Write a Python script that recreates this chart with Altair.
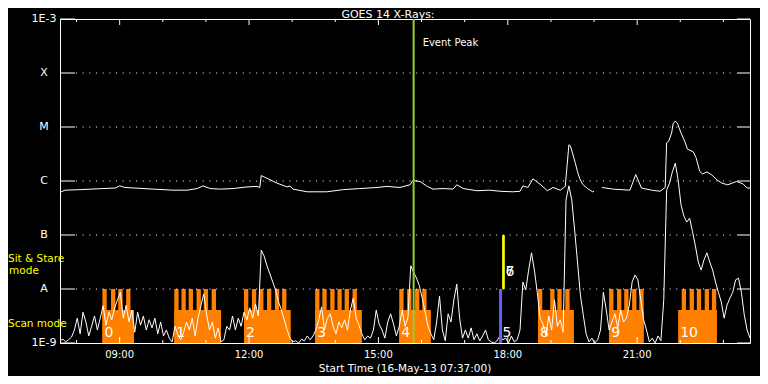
import altair as alt
import numpy as np
import pandas as pd

# ---------------- data ----------------
START = "07:37"
END = "23:37"
TITLE = "GOES 14 X-Rays:"
XTITLE = "Start Time (16-May-13 07:37:00)"

DECADES = [1e-9, 1e-8, 1e-7, 1e-6, 1e-5, 1e-4, 1e-3]
DECADE_LABELS = ["1E-9", "A", "B", "C", "M", "X", "1E-3"]
GRID_DECADES = [1e-8, 1e-7, 1e-6, 1e-5, 1e-4]

TICK_HOURS = [8, 9, 10, 11, 12, 13, 14, 15, 16, 17, 18, 19, 20, 21, 22, 23]
MAJOR_HOURS = [9, 12, 15, 18, 21]
MAJOR_LABELS = ["09:00", "12:00", "15:00", "18:00", "21:00"]

# long channel (1-8 A), minutes after start / log10 flux, two segments (data gap)
UP1_MIN = [0, 7, 28, 60, 77, 83, 90, 129, 157, 177, 191, 199, 209, 223, 241, 260, 274, 278,
           280, 288, 302, 316, 320, 324, 344, 371, 394, 417, 441, 455, 473, 487, 491, 501,
           511, 519, 533, 547, 552, 561, 580, 598, 612, 630, 640, 644, 651, 658, 668, 678,
           686, 696, 703, 708, 710, 713, 717, 720, 723, 727, 734, 741, 743]
UP1_LOG = [-6.21, -6.17, -6.16, -6.14, -6.13, -6.09, -6.12, -6.15, -6.17, -6.17, -6.14, -6.09,
           -6.14, -6.15, -6.14, -6.11, -6.10, -6.12, -5.90, -5.95, -6.04, -6.11, -6.09, -6.15,
           -6.20, -6.20, -6.16, -6.14, -6.12, -6.10, -6.12, -6.07, -5.99, -6.01, -6.10, -6.15,
           -6.14, -6.15, -6.07, -6.14, -6.18, -6.17, -6.19, -6.20, -6.19, -6.09, -6.12, -5.96,
           -6.06, -6.18, -6.12, -6.17, -6.10, -5.33, -5.35, -5.48, -5.67, -5.83, -5.95, -6.06,
           -6.14, -6.20, -6.19]
UP2_MIN = [754, 769, 793, 801, 809, 823, 835, 842, 844, 847, 851, 853, 856, 859, 864, 869, 873,
           881, 885, 890, 894, 900, 907, 914, 921, 929, 941, 950, 956, 960]
UP2_LOG = [-6.12, -6.15, -6.17, -5.88, -6.13, -6.17, -6.19, -6.12, -5.29, -5.26, -5.11, -4.94,
           -4.89, -4.93, -5.11, -5.26, -5.41, -5.46, -5.57, -5.82, -5.87, -5.83, -5.89, -5.98,
           -6.04, -6.07, -6.01, -6.05, -6.13, -6.13]

# short channel (0.5-4 A), one value every 4 minutes from the start, log10 flux
LOW_STEP_MIN = 4
LOW_LOG = [
    -8.96, -8.93, -8.98, -8.94, -8.89, -8.76, -8.54, -8.83, -8.43, -8.61,
    -8.87, -8.69, -8.50, -8.76, -8.54, -8.31, -8.67, -8.43, -8.57, -8.35,
    -8.20, -8.06, -8.54, -8.30, -8.61, -8.39, -8.80, -8.43, -8.67, -8.50,
    -8.76, -8.57, -8.72, -8.54, -8.83, -8.61, -8.87, -8.76, -8.91, -8.98,
    -8.69, -8.85, -8.94, -8.80, -8.61, -8.76, -8.54, -8.87, -8.54, -8.31,
    -8.09, -8.48, -8.76, -8.61, -8.91, -8.72, -8.98, -8.94, -8.69, -8.76,
    -8.50, -8.76, -8.54, -8.69, -8.43, -8.57, -8.35, -8.54, -8.28, -8.50,
    -7.28, -7.39, -7.57, -7.72, -7.87, -8.02, -8.24, -8.39, -8.57, -8.76,
    -8.91, -8.98, -8.96, -9.00, -8.93, -8.96, -8.87, -8.94, -8.87, -8.76,
    -8.57, -8.33, -8.76, -8.54, -8.46, -8.69, -8.83, -8.61, -8.72, -8.57,
    -8.76, -8.39, -8.17, -8.54, -8.67, -8.83, -8.94, -8.87, -8.91, -8.76,
    -8.39, -8.65, -8.76, -8.91, -8.61, -8.46, -8.65, -8.87, -8.69, -8.39,
    -8.69, -8.54, -7.57, -7.69, -7.80, -7.94, -8.17, -8.43, -8.69, -8.83,
    -8.94, -8.61, -8.13, -8.76, -8.96, -8.46, -8.61, -8.20, -7.91, -8.54,
    -8.91, -8.76, -8.91, -8.72, -8.94, -8.83, -8.96, -8.87, -8.76, -8.94,
    -8.98, -9.00, -8.96, -8.87, -8.94, -8.91, -9.00, -8.87, -8.98, -8.94,
    -8.76, -7.87, -8.02, -7.65, -7.33, -7.65, -8.06, -8.54, -8.65, -8.87,
    -8.50, -8.76, -8.20, -8.69, -8.57, -8.80, -6.35, -6.09, -6.35, -6.91,
    -7.50, -8.11, -8.48, -8.83, -8.98, -8.91, -9.00, -8.94, -8.76, -8.06,
    -8.39, -8.76, -8.61, -8.46, -8.72, -8.39, -8.61, -8.54, -8.31, -7.87,
    -7.74, -7.83, -8.20, -8.57, -8.76, -8.98, -8.91, -9.00, -8.87, -8.96,
    -8.20, -6.17, -6.04, -5.83, -5.67, -5.98, -6.44, -6.65, -6.76, -6.69,
    -6.94, -7.20, -7.50, -7.65, -7.46, -7.33, -7.50, -7.65, -7.87, -8.06,
    -8.24, -8.54, -8.30, -8.17, -8.06, -7.83, -7.80, -8.06, -8.48, -8.76,
    -8.91,
]

# observation blocks (scan mode)
BLOCK_START = ["08:36", "10:16", "11:53", "13:32", "15:29", "18:42", "20:21", "21:57"]
BLOCK_END = ["09:20", "11:21", "12:58", "14:37", "16:13", "19:32", "21:09", "22:51"]
BLOCK_TOP = 4.1e-9
STRIPE_START = ["08:36", "08:48", "08:58", "09:09",
                "10:16", "10:26", "10:36", "10:47", "10:57", "11:08",
                "11:53", "12:04", "12:14", "12:25", "12:36", "12:46",
                "13:32", "13:42", "13:53", "14:03", "14:13", "14:24",
                "15:29", "15:40", "15:51", "16:01",
                "18:42", "18:59", "19:09", "19:20",
                "20:21", "20:32", "20:42", "20:53", "21:03",
                "22:02", "22:13", "22:23", "22:34", "22:44"]
STRIPE_MIN = 6
STRIPE_TOP = 1e-8

NUM_LABELS = ["0", "1", "2", "3", "4", "5", "6", "7", "8", "9", "10"]
NUM_TIMES = ["08:36", "10:16", "11:53", "13:32", "15:29", "17:50", "17:54", "17:54",
             "18:42", "20:21", "21:57"]
NUM_LOG = [-8.82, -8.82, -8.82, -8.82, -8.82, -8.82, -7.68, -7.68, -8.82, -8.82, -8.82]

SCAN_TIME = "17:50"      # blue marker, 1E-9 .. 1E-8
STARE_TIME = "17:54"     # yellow marker, 1E-8 .. 1E-7
EVENT_TIME = "15:49"
EVENT_LABEL = "Event Peak"

# ---------------- helpers ----------------
def hours(s):
    h, m = s.split(":")
    return int(h) + int(m) / 60.0

T0 = hours(START)
W, H = 690, 324
FONT = "DejaVu Sans"
ORANGE = "#ff8000"

xs = alt.Scale(domain=[T0, hours(END)], nice=False, zero=False)
ys = alt.Scale(type="log", domain=[1e-9, 1e-3], nice=False)

blocks = pd.DataFrame({"t0": [hours(s) for s in BLOCK_START],
                       "t1": [hours(s) for s in BLOCK_END],
                       "lo": 1e-9, "hi": BLOCK_TOP})
stripes = pd.DataFrame({"t0": [hours(s) for s in STRIPE_START],
                        "t1": [hours(s) + STRIPE_MIN / 60 for s in STRIPE_START],
                        "lo": 1e-9, "hi": STRIPE_TOP})

low = pd.DataFrame({"t": T0 + np.arange(len(LOW_LOG)) * LOW_STEP_MIN / 60.0,
                    "f": 10 ** np.array(LOW_LOG)})
up = pd.concat([
    pd.DataFrame({"t": T0 + np.array(UP1_MIN) / 60.0, "f": 10 ** np.array(UP1_LOG), "seg": "a"}),
    pd.DataFrame({"t": T0 + np.array(UP2_MIN) / 60.0, "f": 10 ** np.array(UP2_LOG), "seg": "b"}),
])
nums = pd.DataFrame({"t": [hours(s) for s in NUM_TIMES], "f": 10 ** np.array(NUM_LOG),
                     "lab": NUM_LABELS})

dec_df = pd.DataFrame({"v": DECADES, "lab": DECADE_LABELS})
grid_df = pd.DataFrame({"v": GRID_DECADES})
minor_df = pd.DataFrame({"h": [h for h in TICK_HOURS if h not in MAJOR_HOURS]})
major_df = pd.DataFrame({"h": MAJOR_HOURS, "lab": MAJOR_LABELS})

X0 = lambda f: alt.X(f, type="quantitative", scale=xs, axis=None)
Y0 = lambda f: alt.Y(f, type="quantitative", scale=ys, axis=None)

block_layer = alt.Chart(blocks).mark_rect(color=ORANGE).encode(
    x=X0("t0"), x2="t1", y=Y0("lo"), y2="hi")
stripe_layer = alt.Chart(stripes).mark_rect(color=ORANGE).encode(
    x=X0("t0"), x2="t1", y=Y0("lo"), y2="hi")

grid_layer = alt.Chart(grid_df).mark_rule(color="white", strokeWidth=1, strokeDash=[1, 5.67]).encode(
    y=Y0("v"), x=alt.value(16), x2=alt.value(W - 14))
lt_layer = alt.Chart(dec_df).mark_rule(color="white", strokeWidth=1).encode(
    y=Y0("v"), x=alt.value(0), x2=alt.value(15))
rt_layer = alt.Chart(dec_df).mark_rule(color="white", strokeWidth=1).encode(
    y=Y0("v"), x=alt.value(W - 13), x2=alt.value(W))
top_minor = alt.Chart(minor_df).mark_rule(color="white").encode(
    x=X0("h"), y=alt.value(0), y2=alt.value(3))
top_major = alt.Chart(major_df).mark_rule(color="white").encode(
    x=X0("h"), y=alt.value(0), y2=alt.value(6))
bot_minor = alt.Chart(minor_df).mark_rule(color="white").encode(
    x=X0("h"), y=alt.value(H), y2=alt.value(H - 3))
bot_major = alt.Chart(major_df).mark_rule(color="white").encode(
    x=X0("h"), y=alt.value(H), y2=alt.value(H - 6))

# axis labels drawn through the scales
ylab_layer = alt.Chart(dec_df).mark_text(color="white", fontSize=11, font=FONT, align="center",
                                         baseline="middle").encode(
    y=Y0("v"), x=alt.value(-16), text="lab:N")
xlab_layer = alt.Chart(major_df).mark_text(color="white", fontSize=10, font=FONT, align="center",
                                           baseline="middle").encode(
    x=X0("h"), y=alt.value(H + 12), text="lab:N")

num_layer = alt.Chart(nums).mark_text(color="white", fontSize=14, font=FONT, align="left",
                                      baseline="middle", dx=2).encode(
    x=X0("t"), y=Y0("f"), text="lab:N")

low_layer = alt.Chart(low).mark_line(color="white", strokeWidth=1).encode(
    x=X0("t"), y=Y0("f"))
up_layer = alt.Chart(up).mark_line(color="white", strokeWidth=1).encode(
    x=X0("t"), y=Y0("f"), detail="seg:N")

scan_layer = alt.Chart(pd.DataFrame({"t": [hours(SCAN_TIME)], "lo": [1e-9], "hi": [1e-8]})).mark_rule(
    color="#6262ff", strokeWidth=3).encode(x=X0("t"), y=Y0("lo"), y2="hi")
stare_layer = alt.Chart(pd.DataFrame({"t": [hours(STARE_TIME)], "lo": [1e-8], "hi": [1e-7]})).mark_rule(
    color="#ffff00", strokeWidth=2.7).encode(x=X0("t"), y=Y0("lo"), y2="hi")
event_df = pd.DataFrame({"t": [hours(EVENT_TIME)], "lab": [EVENT_LABEL]})
event_layer = alt.Chart(event_df).mark_rule(color="#9acd32", strokeWidth=2).encode(
    x=X0("t"), y=alt.value(0), y2=alt.value(H))
event_text = alt.Chart(event_df).mark_text(color="white", fontSize=10, font=FONT, align="left",
                                           baseline="middle", dx=9).encode(
    x=X0("t"), y=alt.value(24), text="lab:N")

def txt(s, x, y, color="white", size=10.5, align="left", baseline="middle"):
    return alt.Chart(pd.DataFrame({"s": [s]})).mark_text(
        color=color, fontSize=size, font=FONT, align=align, baseline=baseline).encode(
        x=alt.value(x), y=alt.value(y), text="s:N")

title_layer = txt(TITLE, 328, -4.5, size=11, align="center")
xtitle_layer = txt(XTITLE, W / 2, H + 25.5, size=10.5, align="center")
sit_layer = txt("Sit & Stare", -52, 239.5, color="#ffff00")
mode_layer = txt("mode", -36, 252, color="#ffff00", align="center")
scan_text = txt("Scan mode", -52, 304.5, color="#ffff00")

chart = alt.layer(
    block_layer, stripe_layer, grid_layer, lt_layer, rt_layer,
    top_minor, top_major, bot_minor, bot_major,
    num_layer, low_layer, up_layer, scan_layer, stare_layer, event_layer, event_text,
    ylab_layer, xlab_layer, title_layer, xtitle_layer, sit_layer, mode_layer, scan_text,
).properties(
    width=W, height=H,
    padding={"left": 52, "top": 11, "right": 10, "bottom": 33},
    autosize=alt.AutoSizeParams(type="none"),
    background="black",
    usermeta={"embedOptions": {"defaultStyle": "body{background:#000;}"}},
).configure_view(stroke="white", strokeWidth=1)

chart.save("out.html", embed_options={"renderer": "svg", "actions": False})
